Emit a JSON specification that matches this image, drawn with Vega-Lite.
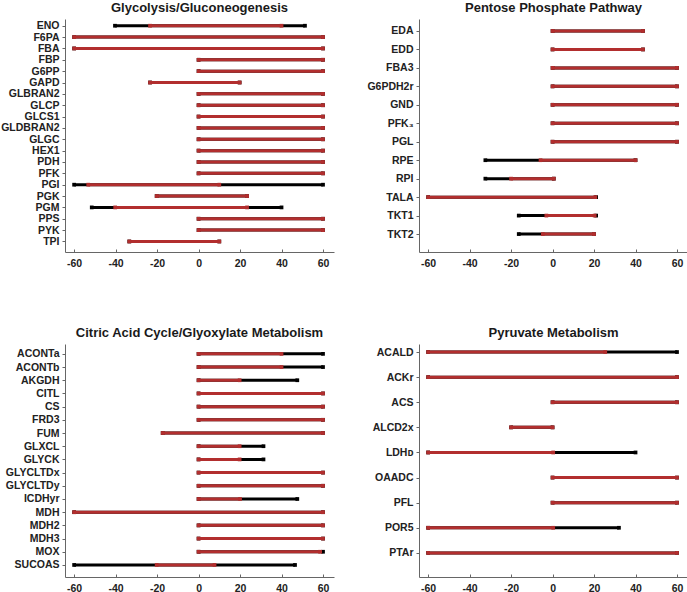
{
  "$schema": "https://vega.github.io/schema/vega-lite/v6.json",
  "padding": {"left": 0, "top": 2, "right": 0, "bottom": 0},
  "background": "white",
  "config": {
    "view": {"stroke": null},
    "font": "Liberation Sans",
    "title": {"fontSize": 13, "font": "Liberation Sans", "fontWeight": "bold", "color": "#1a1a1a", "offset": 4, "anchor": "middle"},
    "axis": {"labelFont": "Liberation Sans", "labelFontWeight": "bold", "labelFontSize": 10.5, "labelColor": "#222222", "domainColor": "#666666", "tickColor": "#666666", "grid": false, "title": null},
    "axisX": {"values": [-60, -40, -20, 0, 20, 40, 60], "labelExpr": "'' + datum.value", "tickSize": -3, "labelPadding": 9},
    "axisY": {"tickSize": 3, "labelPadding": 3},
    "square": {"opacity": 1, "filled": true}
  },
  "datasets": {
    "glyc": [
      {"n": "ENO", "b0": -40.3, "b1": 51.3, "r0": -23.4, "r1": 40},
      {"n": "F6PA", "b0": -60, "b1": 60, "r0": -60, "r1": 60},
      {"n": "FBA", "b0": -60, "b1": 60, "r0": -60, "r1": 60},
      {"n": "FBP", "b0": 0, "b1": 60, "r0": 0, "r1": 60},
      {"n": "G6PP", "b0": 0, "b1": 60, "r0": 0, "r1": 60},
      {"n": "GAPD", "b0": -23.4, "b1": 19.8, "r0": -23.4, "r1": 19.8},
      {"n": "GLBRAN2", "b0": 0, "b1": 60, "r0": 0, "r1": 60},
      {"n": "GLCP", "b0": 0, "b1": 60, "r0": 0, "r1": 60},
      {"n": "GLCS1", "b0": 0, "b1": 60, "r0": 0, "r1": 60},
      {"n": "GLDBRAN2", "b0": 0, "b1": 60, "r0": 0, "r1": 60},
      {"n": "GLGC", "b0": 0, "b1": 60, "r0": 0, "r1": 60},
      {"n": "HEX1", "b0": 0, "b1": 60, "r0": 0, "r1": 60},
      {"n": "PDH", "b0": 0, "b1": 60, "r0": 0, "r1": 60},
      {"n": "PFK", "b0": 0, "b1": 60, "r0": 0, "r1": 60},
      {"n": "PGI", "b0": -60, "b1": 60, "r0": -53.2, "r1": 10},
      {"n": "PGK", "b0": -20.2, "b1": 23.4, "r0": -20.2, "r1": 23.4},
      {"n": "PGM", "b0": -51.5, "b1": 40, "r0": -40.2, "r1": 23.4},
      {"n": "PPS", "b0": 0, "b1": 60, "r0": 0, "r1": 60},
      {"n": "PYK", "b0": 0, "b1": 60, "r0": 0, "r1": 60},
      {"n": "TPI", "b0": -33.4, "b1": 10, "r0": -33.4, "r1": 10}
    ],
    "ppp": [
      {"n": "EDA", "b0": 0, "b1": 43.6, "r0": 0, "r1": 43.6},
      {"n": "EDD", "b0": 0, "b1": 43.6, "r0": 0, "r1": 43.6},
      {"n": "FBA3", "b0": 0, "b1": 60, "r0": 0, "r1": 60},
      {"n": "G6PDH2r", "b0": 0, "b1": 60, "r0": 0, "r1": 60},
      {"n": "GND", "b0": 0, "b1": 60, "r0": 0, "r1": 60},
      {"n": "PFK₃", "b0": 0, "b1": 60, "r0": 0, "r1": 60},
      {"n": "PGL", "b0": 0, "b1": 60, "r0": 0, "r1": 60},
      {"n": "RPE", "b0": -32.4, "b1": 40, "r0": -5.8, "r1": 40},
      {"n": "RPI", "b0": -32.4, "b1": 0.6, "r0": -20, "r1": 0.6},
      {"n": "TALA", "b0": -60, "b1": 21, "r0": -60, "r1": 20.6},
      {"n": "TKT1", "b0": -16.3, "b1": 21, "r0": -3, "r1": 20.3},
      {"n": "TKT2", "b0": -16.3, "b1": 20, "r0": -4.7, "r1": 20}
    ],
    "tca": [
      {"n": "ACONTa", "b0": 0, "b1": 60, "r0": 0, "r1": 40},
      {"n": "ACONTb", "b0": 0, "b1": 60, "r0": 0, "r1": 40},
      {"n": "AKGDH", "b0": 0, "b1": 47.6, "r0": 0, "r1": 19.8},
      {"n": "CITL", "b0": 0, "b1": 60, "r0": 0, "r1": 60},
      {"n": "CS", "b0": 0, "b1": 60, "r0": 0, "r1": 60},
      {"n": "FRD3", "b0": 0, "b1": 60, "r0": 0, "r1": 60},
      {"n": "FUM", "b0": -17.3, "b1": 60, "r0": -17.3, "r1": 60},
      {"n": "GLXCL", "b0": 0, "b1": 31.3, "r0": 0, "r1": 19.8},
      {"n": "GLYCK", "b0": 0, "b1": 31.3, "r0": 0, "r1": 19.8},
      {"n": "GLYCLTDx", "b0": 0, "b1": 60, "r0": 0, "r1": 60},
      {"n": "GLYCLTDy", "b0": 0, "b1": 60, "r0": 0, "r1": 60},
      {"n": "ICDHyr", "b0": 0, "b1": 47.6, "r0": 0, "r1": 20},
      {"n": "MDH", "b0": -60, "b1": 60, "r0": -60, "r1": 60},
      {"n": "MDH2", "b0": 0, "b1": 60, "r0": 0, "r1": 60},
      {"n": "MDH3", "b0": 0, "b1": 60, "r0": 0, "r1": 60},
      {"n": "MOX", "b0": 0, "b1": 60, "r0": 0, "r1": 58.6},
      {"n": "SUCOAS", "b0": -60, "b1": 46.5, "r0": -20.2, "r1": 7.7}
    ],
    "pyr": [
      {"n": "ACALD", "b0": -60, "b1": 60, "r0": -60, "r1": 25.4},
      {"n": "ACKr", "b0": -60, "b1": 60, "r0": -60, "r1": 60},
      {"n": "ACS", "b0": 0, "b1": 60, "r0": 0, "r1": 60},
      {"n": "ALCD2x", "b0": -20, "b1": 0, "r0": -20, "r1": 0},
      {"n": "LDHᴅ", "b0": -60, "b1": 40, "r0": -60, "r1": 0.3},
      {"n": "OAADC", "b0": 0, "b1": 60, "r0": 0, "r1": 60},
      {"n": "PFL", "b0": 0, "b1": 60, "r0": 0, "r1": 60},
      {"n": "POR5", "b0": -60, "b1": 32, "r0": -60, "r1": 0.3},
      {"n": "PTAr", "b0": -60, "b1": 60, "r0": -60, "r1": 60}
    ]
  },
  "columns": 2,
  "spacing": {"row": 92, "column": 85},
  "bounds": "flush",
  "concat": [
    {
      "title": "Glycolysis/Gluconeogenesis",
      "width": 269, "height": 233,
      "data": {"name": "glyc"},
      "encoding": {"y": {"field": "n", "type": "nominal", "sort": null, "title": null, "scale": {"type": "point", "padding": 0.76, "align": 0.39}}},
      "layer": [
        {"mark": {"type": "rule", "color": "black", "strokeWidth": 3}, "encoding": {"x": {"field": "b0", "type": "quantitative", "title": null, "scale": {"domain": [-64.4, 65.3], "nice": false, "zero": false}}, "x2": {"field": "b1"}}},
        {"mark": {"type": "square", "color": "black", "size": 14}, "encoding": {"x": {"field": "b0", "type": "quantitative"}}},
        {"mark": {"type": "square", "color": "black", "size": 14}, "encoding": {"x": {"field": "b1", "type": "quantitative"}}},
        {"mark": {"type": "rule", "color": "#b22e2e", "strokeWidth": 3}, "encoding": {"x": {"field": "r0", "type": "quantitative"}, "x2": {"field": "r1"}}},
        {"mark": {"type": "square", "color": "#b22e2e", "size": 14}, "encoding": {"x": {"field": "r0", "type": "quantitative"}}},
        {"mark": {"type": "square", "color": "#b22e2e", "size": 14}, "encoding": {"x": {"field": "r1", "type": "quantitative"}}}
      ]
    },
    {
      "title": "Pentose Phosphate Pathway",
      "width": 269, "height": 233,
      "data": {"name": "ppp"},
      "encoding": {"y": {"field": "n", "type": "nominal", "sort": null, "title": null, "scale": {"type": "point", "padding": 0.81, "align": 0.4}}},
      "layer": [
        {"mark": {"type": "rule", "color": "black", "strokeWidth": 3}, "encoding": {"x": {"field": "b0", "type": "quantitative", "title": null, "scale": {"domain": [-64.4, 65.3], "nice": false, "zero": false}}, "x2": {"field": "b1"}}},
        {"mark": {"type": "square", "color": "black", "size": 14}, "encoding": {"x": {"field": "b0", "type": "quantitative"}}},
        {"mark": {"type": "square", "color": "black", "size": 14}, "encoding": {"x": {"field": "b1", "type": "quantitative"}}},
        {"mark": {"type": "rule", "color": "#b22e2e", "strokeWidth": 3}, "encoding": {"x": {"field": "r0", "type": "quantitative"}, "x2": {"field": "r1"}}},
        {"mark": {"type": "square", "color": "#b22e2e", "size": 14}, "encoding": {"x": {"field": "r0", "type": "quantitative"}}},
        {"mark": {"type": "square", "color": "#b22e2e", "size": 14}, "encoding": {"x": {"field": "r1", "type": "quantitative"}}}
      ]
    },
    {
      "title": "Citric Acid Cycle/Glyoxylate Metabolism",
      "width": 269, "height": 233,
      "data": {"name": "tca"},
      "encoding": {"y": {"field": "n", "type": "nominal", "sort": null, "title": null, "scale": {"type": "point", "padding": 0.83, "align": 0.45}}},
      "layer": [
        {"mark": {"type": "rule", "color": "black", "strokeWidth": 3}, "encoding": {"x": {"field": "b0", "type": "quantitative", "title": null, "scale": {"domain": [-64.4, 65.3], "nice": false, "zero": false}}, "x2": {"field": "b1"}}},
        {"mark": {"type": "square", "color": "black", "size": 14}, "encoding": {"x": {"field": "b0", "type": "quantitative"}}},
        {"mark": {"type": "square", "color": "black", "size": 14}, "encoding": {"x": {"field": "b1", "type": "quantitative"}}},
        {"mark": {"type": "rule", "color": "#b22e2e", "strokeWidth": 3}, "encoding": {"x": {"field": "r0", "type": "quantitative"}, "x2": {"field": "r1"}}},
        {"mark": {"type": "square", "color": "#b22e2e", "size": 14}, "encoding": {"x": {"field": "r0", "type": "quantitative"}}},
        {"mark": {"type": "square", "color": "#b22e2e", "size": 14}, "encoding": {"x": {"field": "r1", "type": "quantitative"}}}
      ]
    },
    {
      "title": "Pyruvate Metabolism",
      "width": 269, "height": 233,
      "data": {"name": "pyr"},
      "encoding": {"y": {"field": "n", "type": "nominal", "sort": null, "title": null, "scale": {"type": "point", "padding": 0.64, "align": 0.25}}},
      "layer": [
        {"mark": {"type": "rule", "color": "black", "strokeWidth": 3}, "encoding": {"x": {"field": "b0", "type": "quantitative", "title": null, "scale": {"domain": [-64.4, 65.3], "nice": false, "zero": false}}, "x2": {"field": "b1"}}},
        {"mark": {"type": "square", "color": "black", "size": 14}, "encoding": {"x": {"field": "b0", "type": "quantitative"}}},
        {"mark": {"type": "square", "color": "black", "size": 14}, "encoding": {"x": {"field": "b1", "type": "quantitative"}}},
        {"mark": {"type": "rule", "color": "#b22e2e", "strokeWidth": 3}, "encoding": {"x": {"field": "r0", "type": "quantitative"}, "x2": {"field": "r1"}}},
        {"mark": {"type": "square", "color": "#b22e2e", "size": 14}, "encoding": {"x": {"field": "r0", "type": "quantitative"}}},
        {"mark": {"type": "square", "color": "#b22e2e", "size": 14}, "encoding": {"x": {"field": "r1", "type": "quantitative"}}}
      ]
    }
  ]
}
